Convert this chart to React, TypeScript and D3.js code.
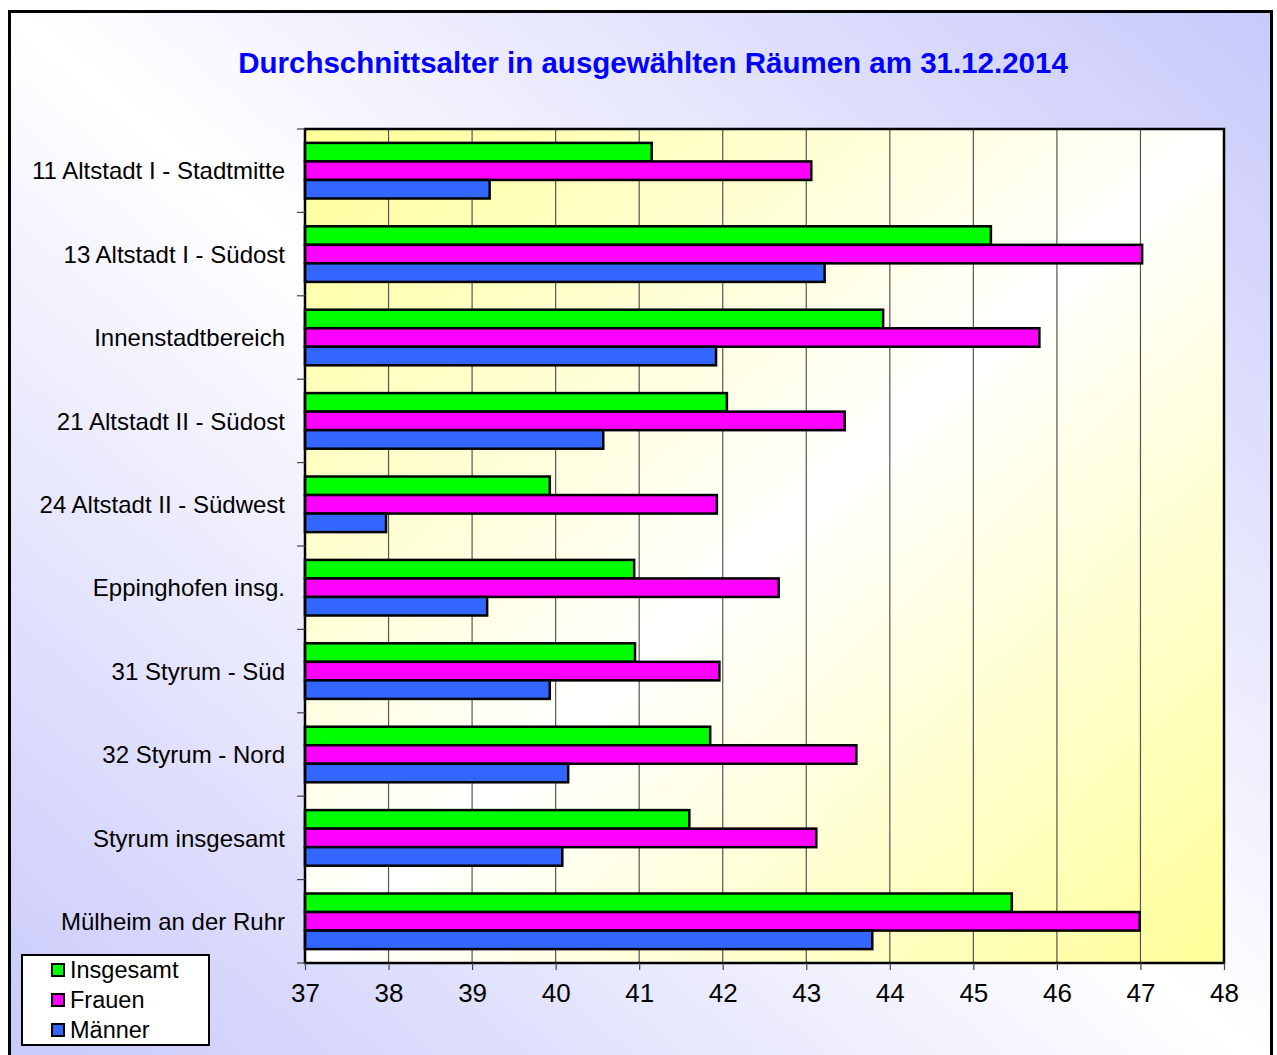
import React, { useEffect, useRef } from "react";
import * as d3 from "d3";

const categories = [
  "11 Altstadt I - Stadtmitte",
  "13 Altstadt I - Südost",
  "Innenstadtbereich",
  "21 Altstadt II - Südost",
  "24 Altstadt II - Südwest",
  "Eppinghofen insg.",
  "31 Styrum - Süd",
  "32 Styrum - Nord",
  "Styrum insgesamt",
  "Mülheim an der Ruhr",
];
const seriesNames = ["Insgesamt", "Frauen", "Männer"];
const insgesamt = [41.15, 45.21, 43.92, 42.05, 39.93, 40.94, 40.95, 41.85, 41.6, 45.46];
const frauen = [43.06, 47.02, 45.79, 43.46, 41.93, 42.67, 41.96, 43.6, 43.12, 46.99];
const maenner = [39.21, 43.22, 41.92, 40.57, 37.97, 39.18, 39.93, 40.15, 40.08, 43.79];
const xTicks = [37, 38, 39, 40, 41, 42, 43, 44, 45, 46, 47, 48];

const colors = ["#00ff00", "#ff00ff", "#3366ff"];
const W = 1277;
const H = 1055;
const plot = { left: 305, top: 129, right: 1224, bottom: 963 };
const font = "Arial, 'Liberation Sans', sans-serif";

const App = () => {
  const ref = useRef(null);

  useEffect(() => {
    document.body.style.margin = "0";
    const svg = d3.select(ref.current);
    svg.selectAll("*").remove();

    const defs = svg.append("defs");
    const bg = defs
      .append("linearGradient")
      .attr("id", "bgGrad")
      .attr("x1", 0).attr("y1", 1).attr("x2", 1).attr("y2", 0);
    bg.append("stop").attr("offset", "0%").attr("stop-color", "#c8c8fb");
    bg.append("stop").attr("offset", "50%").attr("stop-color", "#ffffff");
    bg.append("stop").attr("offset", "100%").attr("stop-color", "#c8c8fb");

    const pg = defs
      .append("linearGradient")
      .attr("id", "plotGrad")
      .attr("x1", 0).attr("y1", 0).attr("x2", 1).attr("y2", 1);
    pg.append("stop").attr("offset", "0%").attr("stop-color", "#ffff99");
    pg.append("stop").attr("offset", "50%").attr("stop-color", "#ffffff");
    pg.append("stop").attr("offset", "100%").attr("stop-color", "#ffff99");

    // chart area background + frame
    svg
      .append("rect")
      .attr("x", 9.5)
      .attr("y", 11.5)
      .attr("width", 1262)
      .attr("height", 1060)
      .attr("fill", "url(#bgGrad)")
      .attr("stroke", "#000")
      .attr("stroke-width", 3);

    svg
      .append("text")
      .attr("x", 653)
      .attr("y", 73)
      .attr("text-anchor", "middle")
      .style("font-family", font)
      .style("font-weight", "bold")
      .style("font-size", "29.5px")
      .style("fill", "#0000ff")
      .text("Durchschnittsalter in ausgewählten Räumen am 31.12.2014");

    const x = d3.scaleLinear().domain([37, 48]).range([plot.left, plot.right]);
    const y = d3
      .scaleBand()
      .domain(categories)
      .range([plot.top, plot.bottom])
      .padding(0);
    const ySub = d3
      .scaleBand()
      .domain(seriesNames)
      .range([0, y.bandwidth()])
      .paddingInner(0)
      .paddingOuter(0.75);

    svg
      .append("rect")
      .attr("x", plot.left)
      .attr("y", plot.top)
      .attr("width", plot.right - plot.left)
      .attr("height", plot.bottom - plot.top)
      .attr("fill", "url(#plotGrad)");

    // grid
    svg
      .append("g")
      .selectAll("line")
      .data(xTicks.slice(1, -1))
      .enter()
      .append("line")
      .attr("x1", d => x(d))
      .attr("x2", d => x(d))
      .attr("y1", plot.top)
      .attr("y2", plot.bottom)
      .attr("stroke", "#555")
      .attr("stroke-width", 1.2);

    const rows = [insgesamt, frauen, maenner];
    const bars = svg.append("g");
    rows.forEach((vals, si) => {
      bars
        .selectAll("rect.s" + si)
        .data(vals)
        .enter()
        .append("rect")
        .attr("class", "s" + si)
        .attr("x", x(37))
        .attr("y", (d, i) => y(categories[i]) + ySub(seriesNames[si]))
        .attr("width", d => x(d) - x(37))
        .attr("height", ySub.bandwidth())
        .attr("fill", colors[si])
        .attr("stroke", "#000")
        .attr("stroke-width", 2.5);
    });

    // plot border
    svg
      .append("rect")
      .attr("x", plot.left)
      .attr("y", plot.top)
      .attr("width", plot.right - plot.left)
      .attr("height", plot.bottom - plot.top)
      .attr("fill", "none")
      .attr("stroke", "#000")
      .attr("stroke-width", 2.5);

    // x axis
    const xAxis = svg
      .append("g")
      .attr("transform", `translate(0,${plot.bottom})`)
      .call(d3.axisBottom(x).tickValues(xTicks).tickSize(7).tickPadding(14).tickSizeOuter(0));
    xAxis.select(".domain").remove();
    xAxis.selectAll("line").attr("stroke", "#444").attr("stroke-width", 1.2);
    xAxis
      .selectAll("text")
      .style("font-family", font)
      .style("font-size", "26px")
      .attr("fill", "#000");

    // y ticks at category boundaries
    const bounds = categories.map(c => y(c)).concat([plot.bottom]);
    svg
      .append("g")
      .selectAll("line")
      .data(bounds)
      .enter()
      .append("line")
      .attr("x1", plot.left - 8)
      .attr("x2", plot.left)
      .attr("y1", d => d)
      .attr("y2", d => d)
      .attr("stroke", "#444")
      .attr("stroke-width", 1.2);

    svg
      .append("g")
      .selectAll("text")
      .data(categories)
      .enter()
      .append("text")
      .attr("x", 285)
      .attr("y", d => y(d) + y.bandwidth() / 2)
      .attr("dy", "0.36em")
      .attr("text-anchor", "end")
      .style("font-family", font)
      .style("font-size", "24px")
      .style("fill", "#000")
      .text(d => d);

    // legend
    const lg = svg.append("g");
    lg.append("rect")
      .attr("x", 22)
      .attr("y", 955)
      .attr("width", 187)
      .attr("height", 90)
      .attr("fill", "#fff")
      .attr("stroke", "#000")
      .attr("stroke-width", 2);
    seriesNames.forEach((s, i) => {
      const cy = 970 + i * 30;
      lg.append("rect")
        .attr("x", 52)
        .attr("y", cy - 6)
        .attr("width", 12)
        .attr("height", 12)
        .attr("fill", colors[i])
        .attr("stroke", "#000")
        .attr("stroke-width", 2);
      lg.append("text")
        .attr("x", 70)
        .attr("y", cy)
        .attr("dy", "0.36em")
        .style("font-family", font)
        .style("font-size", "23.5px")
        .style("fill", "#000")
        .text(s);
    });
  }, []);

  return <svg ref={ref} width={W} height={H} style={{ display: "block" }} />;
};

export default App;
